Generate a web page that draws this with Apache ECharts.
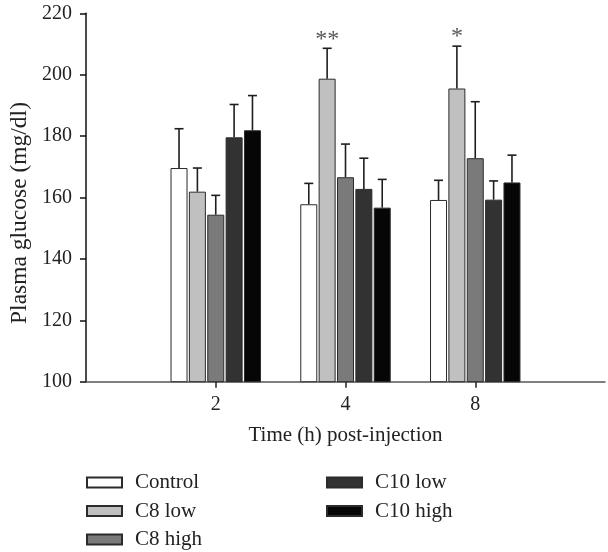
<!DOCTYPE html>
<html>
<head>
<meta charset="utf-8">
<script src="https://cdn.jsdelivr.net/npm/echarts@6/dist/echarts.min.js"></script>
<style>
html,body{margin:0;padding:0;background:#fff;}
#chart{width:608px;height:552px;}
</style>
</head>
<body>
<div id="chart"></div>
<script>
// ---- data ----
const categories = ['2', '4', '8'];
const seriesNames = ['Control', 'C8 low', 'C8 high', 'C10 low', 'C10 high'];
const control  = [169.6, 157.8, 159.2];
const c8Low    = [161.9, 198.7, 195.5];
const c8High   = [154.4, 166.6, 172.8];
const c10Low   = [179.6, 162.8, 159.3];
const c10High  = [181.9, 156.7, 164.9];
const controlErr = [12.8, 6.8, 6.4];
const c8LowErr   = [7.7, 9.9, 13.8];
const c8HighErr  = [6.3, 10.8, 18.4];
const c10LowErr  = [10.7, 10.0, 6.1];
const c10HighErr = [11.3, 9.2, 8.9];
const yTicks = [100, 120, 140, 160, 180, 200, 220];
const significance = [
  { time: '4', group: 'C8 low', mark: '**' },
  { time: '8', group: 'C8 low', mark: '*' }
];

// ---- styling ----
const FONT = "'Liberation Serif', 'DejaVu Serif', serif";
const colors = ['#ffffff', '#c0c0c0', '#7a7a7a', '#323232', '#060606'];
const BAR_W = 17;
const GAP_RATIO = 0.08;
const PITCH = BAR_W * (1 + GAP_RATIO);

const means = [control, c8Low, c8High, c10Low, c10High];
const errs = [controlErr, c8LowErr, c8HighErr, c10LowErr, c10HighErr];
const axisCats = [''].concat(categories, ['']);

const series = [];
seriesNames.forEach((name, s) => {
  series.push({
    name: name,
    type: 'bar',
    barWidth: BAR_W,
    barGap: (GAP_RATIO * 100) + '%',
    itemStyle: { color: colors[s], borderColor: '#2b2b2b', borderWidth: 1 },
    data: means[s].map((v, i) => [i + 1, v]),
    z: 2
  });
});
seriesNames.forEach((name, s) => {
  const off = (s - (seriesNames.length - 1) / 2) * PITCH;
  series.push({
    name: 'err ' + name,
    type: 'custom',
    data: means[s].map((v, i) => [i + 1, v, errs[s][i]]),
    z: 3,
    renderItem: function (params, api) {
      const base = api.coord([api.value(0), api.value(1)]);
      const top = api.coord([api.value(0), api.value(1) + api.value(2)]);
      const x = base[0] + off;
      const st = { stroke: '#1e1e1e', lineWidth: 1.6 };
      return {
        type: 'group',
        children: [
          { type: 'line', shape: { x1: x, y1: base[1], x2: x, y2: top[1] }, style: st },
          { type: 'line', shape: { x1: x - 4.5, y1: top[1], x2: x + 4.5, y2: top[1] }, style: st }
        ]
      };
    }
  });
});
series.push({
  name: 'significance',
  type: 'custom',
  z: 4,
  data: significance.map(d => {
    const s = seriesNames.indexOf(d.group);
    const i = categories.indexOf(d.time);
    return [i + 1, means[s][i] + errs[s][i], s];
  }),
  renderItem: function (params, api) {
    const p = api.coord([api.value(0), api.value(1)]);
    const s = api.value(2);
    const off = (s - (seriesNames.length - 1) / 2) * PITCH;
    return {
      type: 'text',
      style: {
        x: p[0] + off, y: p[1] - 9,
        text: significance[params.dataIndex].mark,
        align: 'center', verticalAlign: 'middle',
        font: '24px ' + FONT, fill: '#555'
      }
    };
  }
});

const legendCommon = {
  orient: 'vertical',
  icon: 'rect',
  itemWidth: 35,
  itemHeight: 10,
  itemGap: 7.5,
  padding: 0,
  height: 80,
  textStyle: { fontFamily: FONT, fontSize: 21, color: '#222', lineHeight: 20, padding: [0, 0, 0, 8] },
  top: 472
};

const option = {
  animation: false,
  backgroundColor: '#fff',
  grid: { left: 86, right: -3, top: 13.3, bottom: 170.3, containLabel: false },
  legend: [
    Object.assign({}, legendCommon, { left: 86, data: seriesNames.slice(0, 3) }),
    Object.assign({}, legendCommon, { left: 326, data: seriesNames.slice(3) })
  ],
  xAxis: {
    type: 'category',
    data: axisCats,
    boundaryGap: false,
    name: 'Time (h) post-injection',
    nameLocation: 'middle',
    nameGap: 43,
    nameTextStyle: { fontFamily: FONT, fontSize: 21, color: '#222' },
    axisLine: { lineStyle: { color: '#555', width: 1.5 } },
    axisTick: { length: 6, lineStyle: { color: '#222', width: 1.5 }, interval: function (idx, val) { return val !== ''; } },
    axisLabel: { fontFamily: FONT, fontSize: 20, color: '#222', margin: 13, interval: 0 },
    splitLine: { show: false }
  },
  yAxis: {
    type: 'value',
    min: yTicks[0],
    max: yTicks[yTicks.length - 1],
    interval: yTicks[1] - yTicks[0],
    axisLine: { show: true, lineStyle: { color: '#111', width: 1.5 } },
    axisTick: { show: true, length: 6, lineStyle: { color: '#111', width: 1.5 } },
    axisLabel: { fontFamily: FONT, fontSize: 20, color: '#222', margin: 14 },
    splitLine: { show: false }
  },
  graphic: [{
    type: 'text',
    x: 20, y: 213,
    rotation: Math.PI / 2,
    style: {
      text: 'Plasma glucose (mg/dl)',
      font: '23.5px ' + FONT,
      fill: '#222',
      align: 'center',
      verticalAlign: 'middle'
    }
  }],
  series: series
};

const chart = echarts.init(document.getElementById('chart'), null, { renderer: 'canvas' });
chart.setOption(option);
</script>
</body>
</html>
